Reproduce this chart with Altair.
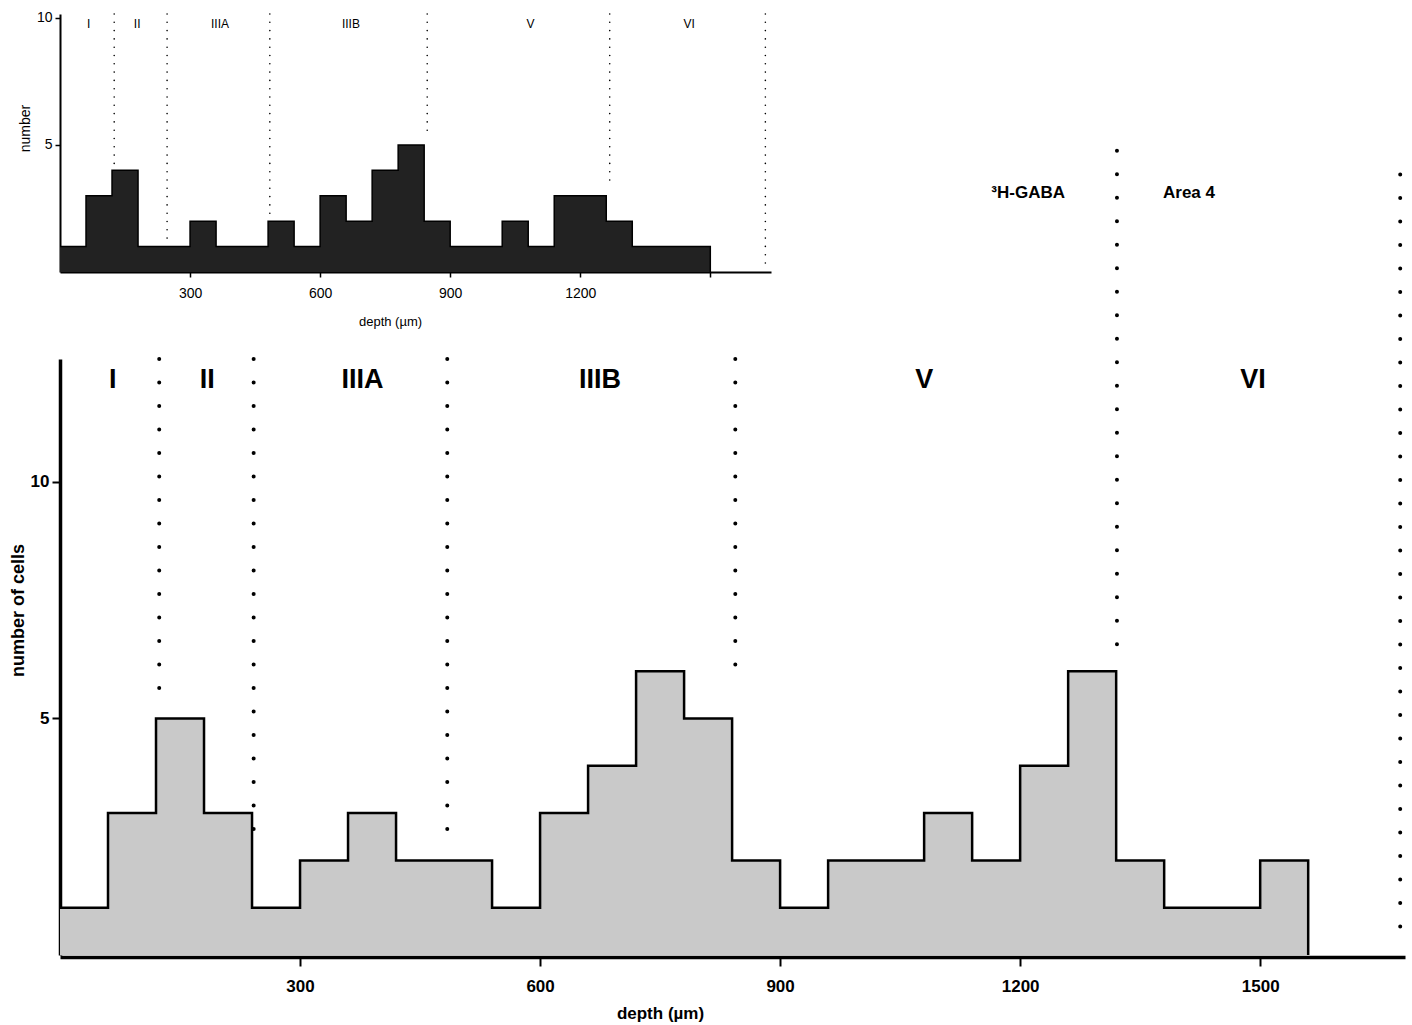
import altair as alt
import pandas as pd

FONT = "Liberation Sans"

# ---------------- main histogram (60 µm bins) ----------------
main_edges = [0, 60, 120, 180, 240, 300, 360, 420, 480, 540, 600, 660, 720, 780,
              840, 900, 960, 1020, 1080, 1140, 1200, 1260, 1320, 1380, 1440, 1500, 1560]
main_counts = [1, 3, 5, 3, 1, 2, 3, 2, 2, 1, 3, 4, 6, 5, 2, 1, 2, 2, 3, 2, 4, 6, 2, 1, 1, 2]

main_bound_x = [124, 242, 484, 844, 1321, 1675]
main_bound_top = [12.6, 12.6, 12.6, 12.6, 17.0, 16.5]
main_bound_bottom = [5.5, 2.6, 2.5, 6.0, 6.3, 0.3]

main_layer_names = ["I", "II", "IIIA", "IIIB", "V", "VI"]
main_layer_x = [66, 184, 378, 675, 1080, 1491]
main_layer_y = [12.15, 12.15, 12.15, 12.15, 12.15, 12.15]

note_text = ["³H-GABA", "Area 4"]
note_x = [1210, 1411]
note_y = [16.1, 16.1]

# ---------------- inset histogram ----------------
inset_edges = [0, 60, 120, 180, 240, 300, 360, 420, 480, 540, 600, 660, 720, 780,
               840, 900, 960, 1020, 1080, 1140, 1200, 1260, 1320, 1380, 1440, 1500]
inset_counts = [1, 3, 4, 1, 1, 2, 1, 1, 2, 1, 3, 2, 4, 5, 2, 1, 1, 2, 1, 3, 3, 2, 1, 1, 1]

inset_bound_x = [125, 247, 484, 847, 1268, 1627]
inset_bound_top = [10.15, 10.15, 10.15, 10.15, 10.15, 10.15]
inset_bound_bottom = [4.2, 1.1, 2.1, 5.3, 3.3, 0.35]

inset_layer_names = ["I", "II", "IIIA", "IIIB", "V", "VI"]
inset_layer_x = [66, 178, 369, 671, 1085, 1451]
inset_layer_y = [9.75, 9.75, 9.75, 9.75, 9.75, 9.75]

# ---------------- tables ----------------
main_hist = pd.DataFrame({"x": main_edges, "y": main_counts + [0]})
main_bounds = pd.DataFrame({"x": main_bound_x, "y": main_bound_top, "y2": main_bound_bottom})
main_labels = pd.DataFrame({"x": main_layer_x, "y": main_layer_y, "t": main_layer_names})
notes = pd.DataFrame({"x": note_x, "y": note_y, "t": note_text})

inset_hist = pd.DataFrame({"x": inset_edges, "y": inset_counts + [0]})
inset_bounds = pd.DataFrame({"x": inset_bound_x, "y": inset_bound_top, "y2": inset_bound_bottom})
inset_labels = pd.DataFrame({"x": inset_layer_x, "y": inset_layer_y, "t": inset_layer_names})

W, H = 1352, 957

# ---------------- main scales / axes ----------------
sx_main = alt.Scale(domain=[0, 1681], range=[0, 1345], nice=False, zero=False)
sy_main = alt.Scale(domain=[0, 12.6], range=[955, 359], nice=False, zero=False)

ax_main_x = alt.Axis(
    orient="bottom", values=[300, 600, 900, 1200, 1500], grid=False, format="d",
    title="depth (µm)", domainColor="black", domainWidth=3.5,
    tickColor="black", tickWidth=2, tickSize=9,
    labelFont=FONT, labelFontSize=17, labelFontWeight="bold", labelColor="black",
    labelPadding=12,
    titleFont=FONT, titleFontSize=17, titleFontWeight="bold", titleColor="black",
    titleX=600, titleY=56, titleAlign="center", titleBaseline="middle",
)
ax_main_y = alt.Axis(
    orient="left", values=[5, 10], grid=False, format="d",
    title="number of cells", domainColor="black", domainWidth=3.5,
    tickColor="black", tickWidth=2, tickSize=8,
    labelFont=FONT, labelFontSize=17, labelFontWeight="bold", labelColor="black",
    labelPadding=3,
    titleFont=FONT, titleFontSize=18, titleFontWeight="bold", titleColor="black",
    titleX=-42, titleY=610, titleAngle=-90, titleAlign="center", titleBaseline="middle",
)

main_area = alt.Chart(main_hist).mark_area(
    interpolate="step-after", color="#c9c9c9"
).encode(
    x=alt.X("x:Q", scale=sx_main, axis=ax_main_x),
    y=alt.Y("y:Q", scale=sy_main, axis=ax_main_y),
)
main_line = alt.Chart(main_hist).mark_line(
    interpolate="step-after", color="black", strokeWidth=2.5
).encode(
    x=alt.X("x:Q", scale=sx_main, axis=ax_main_x),
    y=alt.Y("y:Q", scale=sy_main, axis=ax_main_y),
)
main_rules = alt.Chart(main_bounds).mark_rule(
    color="black", strokeWidth=4, strokeCap="round", strokeDash=[0, 23.5]
).encode(
    x=alt.X("x:Q", scale=sx_main, axis=ax_main_x),
    y=alt.Y("y:Q", scale=sy_main, axis=ax_main_y),
    y2="y2:Q",
)
main_text = alt.Chart(main_labels).mark_text(
    font=FONT, fontSize=27, fontWeight="bold", color="black", baseline="middle"
).encode(
    x=alt.X("x:Q", scale=sx_main, axis=ax_main_x),
    y=alt.Y("y:Q", scale=sy_main, axis=ax_main_y),
    text="t:N",
)
note_marks = alt.Chart(notes).mark_text(
    font=FONT, fontSize=17, fontWeight="bold", color="black", baseline="middle"
).encode(
    x=alt.X("x:Q", scale=sx_main, axis=ax_main_x),
    y=alt.Y("y:Q", scale=sy_main, axis=ax_main_y),
    text="t:N",
)

main = alt.layer(main_area, main_line, main_rules, main_text, note_marks)

# ---------------- inset scales / axes ----------------
sx_in = alt.Scale(domain=[0, 1640], range=[0, 711], nice=False, zero=False)
sy_in = alt.Scale(domain=[0, 10.15], range=[272, 14], nice=False, zero=False)

ax_in_x = alt.Axis(
    orient="bottom", offset=-685, values=[300, 600, 900, 1200, 1500], grid=False,
    format="d", labelExpr="datum.value == 1500 ? '' : datum.label",
    title="depth (µm)", domainColor="black", domainWidth=2,
    tickColor="black", tickWidth=1.5, tickSize=5,
    labelFont=FONT, labelFontSize=14, labelColor="black", labelPadding=9,
    titleFont=FONT, titleFontSize=13, titleFontWeight="normal", titleColor="black",
    titleX=330, titleY=49, titleAlign="center", titleBaseline="middle",
)
ax_in_y = alt.Axis(
    orient="left", values=[5, 10], grid=False, format="d",
    title="number", domainColor="black", domainWidth=2,
    tickColor="black", tickWidth=1.5, tickSize=5,
    labelFont=FONT, labelFontSize=14, labelColor="black", labelPadding=3,
    titleFont=FONT, titleFontSize=14, titleFontWeight="normal", titleColor="black",
    titleX=-35, titleY=128, titleAngle=-90, titleAlign="center", titleBaseline="middle",
)

inset_area = alt.Chart(inset_hist).mark_area(
    interpolate="step-after", color="#222222"
).encode(
    x=alt.X("x:Q", scale=sx_in, axis=ax_in_x),
    y=alt.Y("y:Q", scale=sy_in, axis=ax_in_y),
)
inset_line = alt.Chart(inset_hist).mark_line(
    interpolate="step-after", color="black", strokeWidth=1.5
).encode(
    x=alt.X("x:Q", scale=sx_in, axis=ax_in_x),
    y=alt.Y("y:Q", scale=sy_in, axis=ax_in_y),
)
inset_rules = alt.Chart(inset_bounds).mark_rule(
    color="black", strokeWidth=1.6, strokeCap="round", strokeDash=[0, 8.3]
).encode(
    x=alt.X("x:Q", scale=sx_in, axis=ax_in_x),
    y=alt.Y("y:Q", scale=sy_in, axis=ax_in_y),
    y2="y2:Q",
)
inset_text = alt.Chart(inset_labels).mark_text(
    font=FONT, fontSize=12, color="black", baseline="middle"
).encode(
    x=alt.X("x:Q", scale=sx_in, axis=ax_in_x),
    y=alt.Y("y:Q", scale=sy_in, axis=ax_in_y),
    text="t:N",
)

inset = alt.layer(inset_area, inset_line, inset_rules, inset_text)

chart = alt.layer(main, inset).resolve_scale(
    x="independent", y="independent"
).resolve_axis(
    x="independent", y="independent"
).properties(
    width=W, height=H,
    autosize=alt.AutoSizeParams(type="none"),
    padding={"left": 60, "top": 0, "right": 0, "bottom": 68},
    background="white",
).configure_view(stroke=None)

chart.save("out.html", embed_options={"renderer": "svg", "actions": False})
